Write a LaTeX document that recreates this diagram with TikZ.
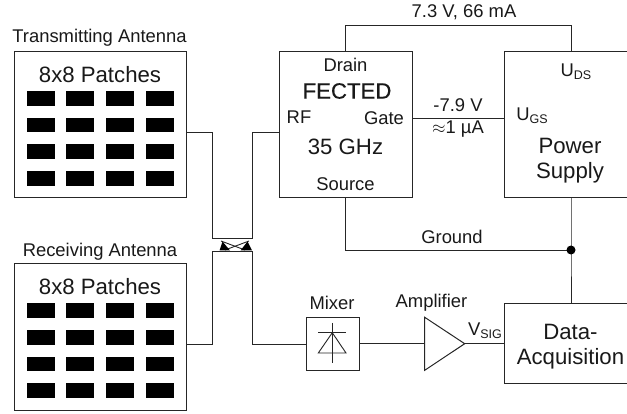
\documentclass[tikz,border=0pt]{standalone}
\usepackage{fontspec}
\setmainfont{Liberation Sans}
\tikzset{
  x=1pt,y=-1pt,
  wire/.style={draw=black!85,line width=0.9pt},
  blockbox/.style={draw=black!85,line width=1pt,fill=white},
  patch/.style={fill=black,draw=none},
  lab/.style={inner sep=0pt,font=\fontsize{18.4}{20}\selectfont,text=black!90},
  big/.style={inner sep=0pt,font=\fontsize{22.2}{25}\selectfont,text=black!90,align=center},
}
\newcommand{\subs}[1]{\raisebox{-3pt}{\fontsize{12.5}{13}\selectfont #1}}
\newcommand{\patches}[1]{%
  \foreach \py in {0,26.6,53.2,79.8}{
    \foreach \px in {26.5,66,106,145.7}{
      \path[patch] (\px,#1+\py) rectangle ++(28,14.8);
    }
  }
}
\begin{document}
\begin{tikzpicture}
\useasboundingbox (0,0) rectangle (627,414);
% antennas
\node[coordinate] (txout) at (186.5,132) {};
\node[coordinate] (rxout) at (186.5,344) {};
\draw[blockbox] (14,52) rectangle (186.5,197.5);
\draw[blockbox] (14,264) rectangle (186.5,410);
\patches{91}
\patches{303.3}
\node[lab] (txl) at (99.5,37.5) {Transmitting Antenna};
\node[lab] (rxl) at (100,252) {Receiving Antenna};
\node[big] (txp) at (100,75) {8x8 Patches};
\node[big] (rxp) at (100,287) {8x8 Patches};
% FET
\node[coordinate] (fetrf) at (279,132) {};
\draw[blockbox] (279,52) rectangle (412,198);
\node[lab] (dl) at (345.5,65) {Drain};
\node[big] (fe) at (347,91) {\addfontfeature{FakeBold=0.4}FECTED};
\node[lab] (rf) at (299,117) {RF};
\node[lab] (gl) at (384,118) {Gate};
\node[big] (gh) at (345.5,147) {35 GHz};
\node[lab] (sl) at (345.5,184) {Source};
% power
\draw[blockbox] (504,52) rectangle (630,198);
\node[lab] (uds) at (576,72) {U\subs{DS}};
\node[lab] (ugs) at (532,116) {U\subs{GS}};
\node[big] (ps) at (570,160.5) {Power\\Supply};
% data
\draw[blockbox] (504,304) rectangle (630,383);
\node[big] (da) at (570.5,347) {Data-\\Acquisition};
% wires
\coordinate (dr) at (345,52);
\coordinate (pu) at (571,52);
\draw[wire] (dr) -- (345,25) -- (571,25) -- (pu);
\node[lab] (v1) at (464,12) {7.3 V, 66 mA};
\draw[wire] (412,118) -- (504,118);
\node[lab] (v2) at (458,105) {-7.9 V};
\node[lab] (v3) at (458,129) {$\approx$1 µA};
\coordinate (src) at (345,198);
\coordinate (jn) at (571,250);
\draw[wire] (src) -- (345,250) -- (jn);
\node[lab] (gnd) at (452,237) {Ground};
\draw[wire] (571,198) -- (jn) -- (571,304);
\fill[black] (jn) circle (4.5);
% switch
\draw[wire] (txout) -- (212.5,132) -- (212.5,238) -- (252.5,238) -- (252.5,132) -- (fetrf);
\draw[wire] (rxout) -- (212.5,344) -- (212.5,251) -- (252.5,251) -- (252.5,344) -- (306,344);
\draw[wire] (221,241) -- (245,250);
\draw[wire] (249,241) -- (225,250);
\fill[black] (222.5,241.5) -- (230,250.5) -- (219.5,250.5) -- cycle;
\fill[black] (247.5,241.5) -- (252,250.5) -- (240.5,250.5) -- cycle;
% mixer
\draw[blockbox] (306,317.3) rectangle (359,370.3);
\draw[wire] (332.3,323) -- (332.3,363);
\draw[wire] (318.3,332.7) -- (346,332.7);
\draw[wire] (332.3,332.7) -- (318.3,353) -- (346,353) -- cycle;
\node[lab] (mx) at (332,303) {Mixer};
% amp
\draw[wire] (359,343.7) -- (424.7,343.7);
\draw[blockbox] (424.7,317.3) -- (464.7,343.7) -- (424.7,370.3) -- cycle;
\node[lab] (am) at (431.5,303) {Amplifier};
\draw[wire] (464.7,343.7) -- (504,343.7);
\node[lab] (vs) at (485,331) {V\subs{SIG}};
\end{tikzpicture}
\end{document}
